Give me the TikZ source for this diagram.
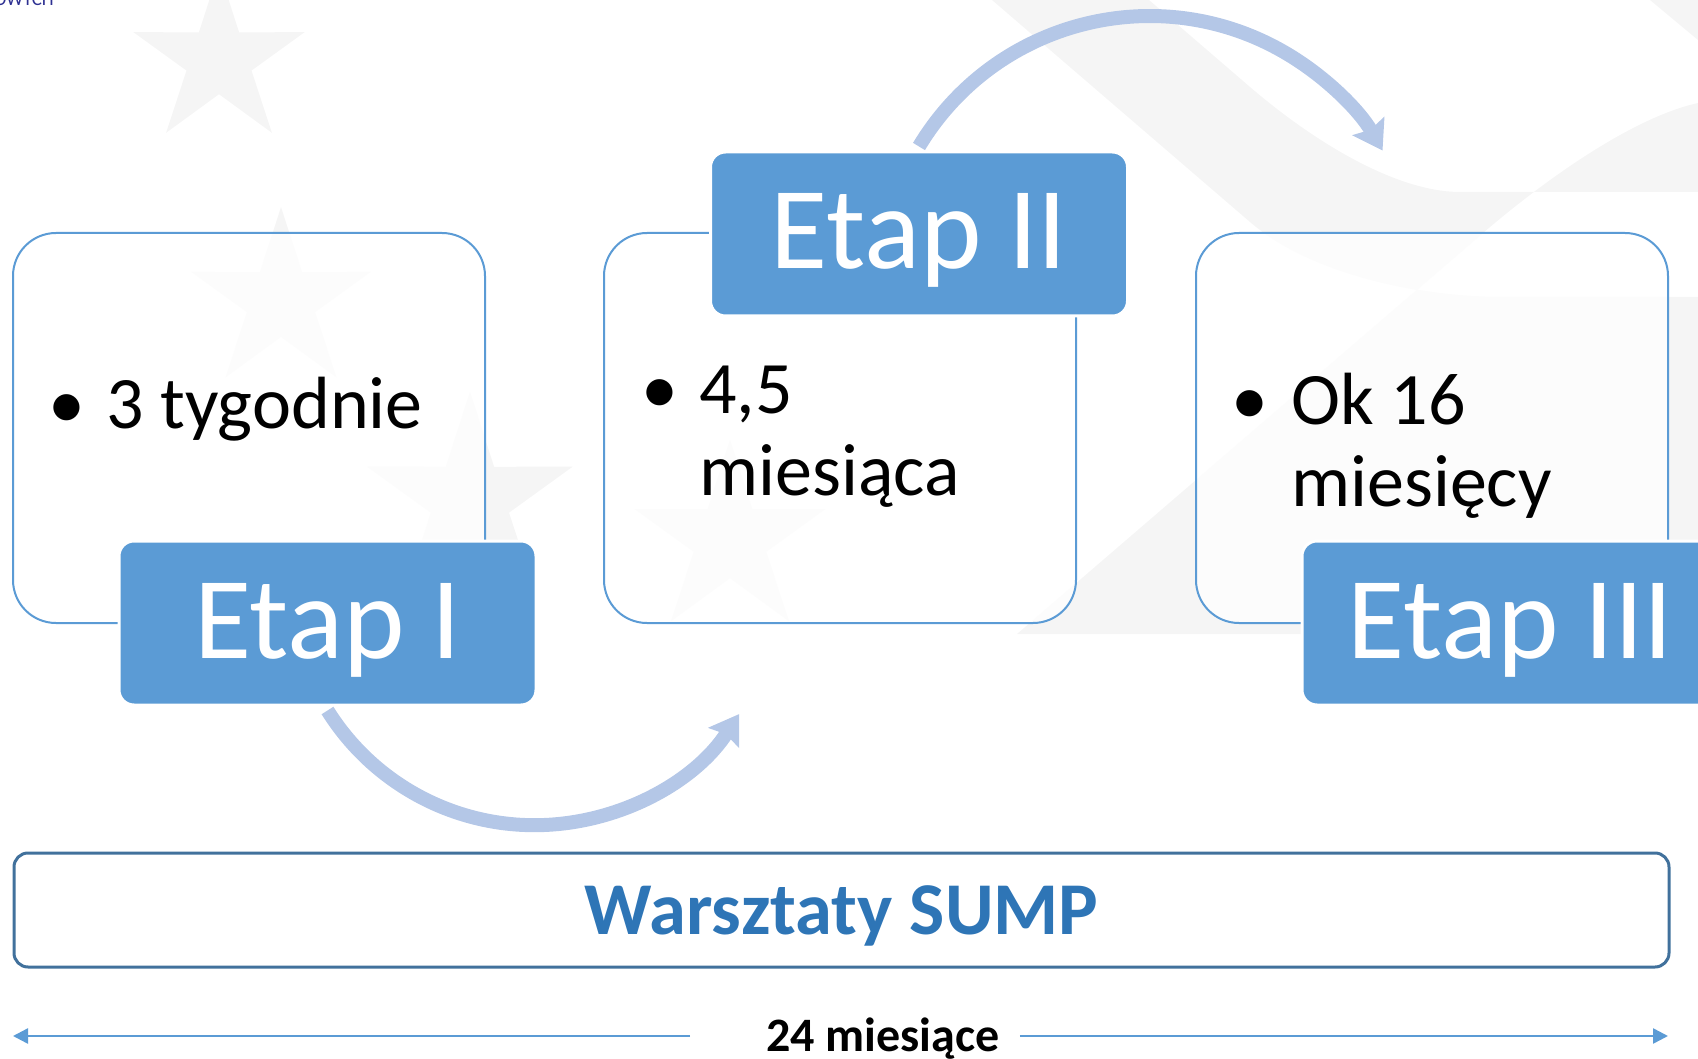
\documentclass[tikz,border=0pt]{standalone}
\usepackage{fontspec}
\setmainfont{Carlito}
\usetikzlibrary{arrows.meta}
\definecolor{etapblue}{HTML}{5B9BD5}
\definecolor{flowblue}{HTML}{B4C7E7}
\definecolor{sumpblue}{HTML}{2E75B6}
\definecolor{sumpframe}{HTML}{41719C}
\definecolor{bggray}{HTML}{F5F5F5}
\definecolor{logoblue}{HTML}{2E3192}

\begin{document}
\begin{tikzpicture}[x=1pt,y=-1pt,
  stagebox/.style={draw=etapblue,line width=2pt,fill=white,fill opacity=0.7,rounded corners=43pt,minimum width=472pt,minimum height=390pt,inner sep=0pt},
  etaplabel/.style={fill=etapblue,draw=white,line width=3pt,rounded corners=15pt,minimum width=417pt,minimum height=164pt,text=white,font=\fontsize{117}{117}\selectfont,text height=75pt,text depth=5pt},
  itemtext/.style={font=\fontsize{74}{82}\selectfont,inner sep=0pt,anchor=base west},
  itemdot/.style={font=\fontsize{74}{82}\selectfont,inner sep=0pt,anchor=base},
  flowarc/.style={flowblue,line width=14pt,-{Stealth[length=28pt,width=36pt,inset=4pt]}},
  spanline/.style={etapblue,line width=2.5pt,-{Triangle[length=15pt,width=15pt]}}]
  \useasboundingbox (0,0) rectangle (1698,1059);

  % background ribbons and stars
  \fill[bggray,even odd rule] (992,0) -- (1149,0) -- (1250,87) .. controls (1320,147) and (1400,192) .. (1460,192) -- (1698,192) -- (1698,297) -- (1500,297) .. controls (1420,297) and (1310,274) .. (1250,222) -- cycle
    (1017,634) -- (1483,233) .. controls (1540,184) and (1630,118) .. (1698,103) -- (1698,634) -- cycle;
  \fill[bggray] (1650,0) -- (1698,0) -- (1698,40) -- cycle;
  \foreach \cx/\cy/\r in {219/60/90, 281/301/94, 470/500/108, 730/540/100} {
    \pgfmathsetmacro\ri{0.38*\r}
    \fill[bggray,shift={(\cx,\cy)}] (-90:\r) -- (-54:\ri) -- (-18:\r) -- (18:\ri) -- (54:\r) -- (90:\ri) -- (126:\r) -- (162:\ri) -- (198:\r) -- (234:\ri) -- cycle;
  }
  \node[text=logoblue,font=\fontsize{19}{19}\selectfont,anchor=base east,inner sep=0pt] (logo) at (54,6) {OWYCH};

  % stages
  \node[stagebox] (box1) at (249,428) {};
  \node[stagebox] (box2) at (840,428) {};
  \node[stagebox] (box3) at (1432,428) {};

  \node[itemdot] (d1) at (67,428) {•};
  \node[itemtext] (t1) at (106,428) {3 tygodnie};
  \node[itemdot] (d2) at (660,413) {•};
  \node[itemtext] (t2a) at (699,413) {4,5};
  \node[itemtext] (t2b) at (699,495) {miesiąca};
  \node[itemdot] (d3) at (1250,424) {•};
  \node[itemtext] (t3a) at (1291,424) {Ok 16};
  \node[itemtext] (t3b) at (1291,506) {miesięcy};

  \node[etaplabel] (etap1) at (327.5,623) {Etap I};
  \node[etaplabel] (etap2) at (919,234) {Etap II};
  \node[etaplabel] (etap3) at (1510.5,623) {Etap III};

  \draw[flowarc] ([yshift=-4pt]etap1.south) arc[start angle=148,end angle=33,radius=244];
  \draw[flowarc] ([yshift=4pt]etap2.north) arc[start angle=211,end angle=330,radius=269];

  % workshops and time span
  \node[draw=sumpframe,line width=3pt,rounded corners=14pt,minimum width=1655pt,minimum height=114pt,text=sumpblue,font=\bfseries\fontsize{74.5}{74.5}\selectfont,text height=48pt,text depth=0pt] (sump) at (841.5,910) {Warsztaty SUMP};

  \coordinate (spanL) at (13,1036);
  \coordinate (spanR) at (1668,1036);
  \node[font=\bfseries\fontsize{48}{48}\selectfont,text height=30pt,text depth=0pt,inner xsep=20pt] (months) at (883,1036) {24 miesiące};
  \draw[spanline] ([xshift=-56pt]months.west) -- (spanL);
  \draw[spanline] (months.east) -- (spanR);
\end{tikzpicture}
\end{document}
